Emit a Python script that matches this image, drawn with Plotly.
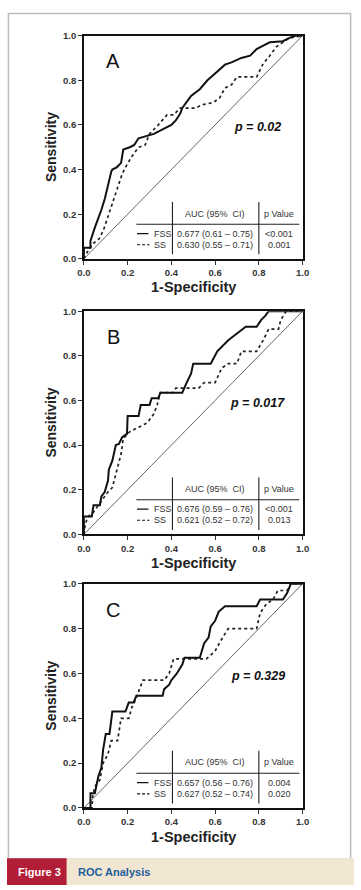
import plotly.graph_objects as go

W, H = 361, 890

# ---------------- data ----------------
panel_labels = ["A", "B", "C"]
p_texts = ["p = 0.02", "p = 0.017", "p = 0.329"]
tick_vals = [0.0, 0.2, 0.4, 0.6, 0.8, 1.0]
tick_text = ["0.0", "0.2", "0.4", "0.6", "0.8", "1.0"]
series_names = ["FSS", "SS"]
auc_a = ["0.677 (0.61 \u2013 0.75)", "0.630 (0.55 \u2013 0.71)"]
auc_b = ["0.676 (0.59 \u2013 0.76)", "0.621 (0.52 \u2013 0.72)"]
auc_c = ["0.657 (0.56 \u2013 0.76)", "0.627 (0.52 \u2013 0.74)"]
pval_a = ["<0.001", "0.001"]
pval_b = ["<0.001", "0.013"]
pval_c = ["0.004", "0.020"]

fss_a_x = [0, 0, 0.03, 0.03, 0.05, 0.066, 0.08, 0.096, 0.11, 0.125, 0.13, 0.15, 0.17, 0.18, 0.21,
           0.23, 0.25, 0.29, 0.32, 0.36, 0.40, 0.42, 0.44, 0.45, 0.48, 0.49, 0.53, 0.565, 0.60,
           0.645, 0.675, 0.72, 0.76, 0.79, 0.82, 0.85, 0.91, 0.94, 0.97, 1.0]
fss_a_y = [0, 0.05, 0.05, 0.08, 0.14, 0.18, 0.22, 0.27, 0.33, 0.39, 0.40, 0.41, 0.43, 0.49, 0.50,
           0.51, 0.54, 0.55, 0.56, 0.58, 0.60, 0.62, 0.65, 0.676, 0.72, 0.73, 0.76, 0.80, 0.83,
           0.87, 0.88, 0.90, 0.91, 0.94, 0.955, 0.97, 0.975, 0.99, 1.0, 1.0]
ss_a_x = [0, 0.015, 0.044, 0.07, 0.09, 0.11, 0.13, 0.155, 0.175, 0.19, 0.22, 0.25, 0.28, 0.30,
          0.34, 0.38, 0.41, 0.44, 0.51, 0.54, 0.59, 0.62, 0.645, 0.675, 0.70, 0.79, 0.82, 0.85,
          0.88, 0.91, 0.94, 1.0]
ss_a_y = [0, 0.03, 0.07, 0.09, 0.13, 0.19, 0.25, 0.33, 0.38, 0.41, 0.46, 0.50, 0.51, 0.56,
          0.60, 0.645, 0.645, 0.675, 0.675, 0.69, 0.70, 0.72, 0.765, 0.78, 0.815, 0.815, 0.875,
          0.91, 0.95, 0.97, 0.99, 1.0]

fss_b_x = [0, 0, 0.036, 0.044, 0.073, 0.08, 0.095, 0.11, 0.114, 0.13, 0.146, 0.16, 0.175, 0.197,
           0.20, 0.25, 0.26, 0.30, 0.31, 0.34, 0.35, 0.45, 0.47, 0.49, 0.50, 0.58, 0.61, 0.66,
           0.70, 0.74, 0.79, 0.81, 0.83, 0.845, 1.0]
fss_b_y = [0, 0.08, 0.08, 0.13, 0.13, 0.17, 0.19, 0.24, 0.29, 0.33, 0.40, 0.405, 0.435, 0.45,
           0.53, 0.53, 0.58, 0.58, 0.61, 0.61, 0.635, 0.635, 0.68, 0.72, 0.765, 0.765, 0.82, 0.87,
           0.90, 0.93, 0.93, 0.96, 0.98, 1.0, 1.0]
ss_b_x = [0, 0.007, 0.02, 0.044, 0.073, 0.087, 0.11, 0.13, 0.15, 0.17, 0.18, 0.21, 0.25, 0.29,
          0.32, 0.335, 0.35, 0.41, 0.42, 0.525, 0.55, 0.60, 0.63, 0.66, 0.70, 0.72, 0.79, 0.82,
          0.845, 0.89, 0.90, 0.925, 1.0]
ss_b_y = [0, 0.05, 0.08, 0.10, 0.14, 0.16, 0.19, 0.21, 0.28, 0.36, 0.43, 0.46, 0.48, 0.50,
          0.54, 0.58, 0.635, 0.635, 0.655, 0.655, 0.68, 0.68, 0.745, 0.765, 0.765, 0.82, 0.82,
          0.87, 0.92, 0.92, 0.96, 1.0, 1.0]

fss_c_x = [0, 0.03, 0.03, 0.05, 0.066, 0.08, 0.088, 0.10, 0.117, 0.13, 0.19, 0.205, 0.227, 0.24,
           0.36, 0.367, 0.39, 0.40, 0.425, 0.45, 0.46, 0.53, 0.55, 0.57, 0.58, 0.60, 0.616, 0.645,
           0.79, 0.806, 0.91, 0.93, 0.946, 1.0]
fss_c_y = [0, 0, 0.066, 0.066, 0.14, 0.18, 0.26, 0.33, 0.33, 0.43, 0.43, 0.47, 0.47, 0.50,
           0.50, 0.53, 0.55, 0.57, 0.60, 0.64, 0.67, 0.67, 0.735, 0.76, 0.81, 0.835, 0.875, 0.90,
           0.90, 0.93, 0.93, 0.96, 1.0, 1.0]
ss_c_x = [0, 0.037, 0.04, 0.05, 0.073, 0.088, 0.11, 0.125, 0.154, 0.17, 0.205, 0.22, 0.235,
          0.25, 0.27, 0.367, 0.39, 0.41, 0.52, 0.56, 0.60, 0.625, 0.66, 0.79, 0.806, 0.835,
          0.865, 0.887, 0.93, 0.946, 1.0]
ss_c_y = [0, 0, 0.05, 0.095, 0.125, 0.20, 0.24, 0.30, 0.30, 0.40, 0.40, 0.45, 0.48, 0.52,
          0.57, 0.57, 0.60, 0.665, 0.665, 0.665, 0.70, 0.745, 0.80, 0.80, 0.87, 0.91, 0.93,
          0.97, 0.97, 1.0, 1.0]

curves = [(fss_a_x, fss_a_y, ss_a_x, ss_a_y),
          (fss_b_x, fss_b_y, ss_b_x, ss_b_y),
          (fss_c_x, fss_c_y, ss_c_x, ss_c_y)]
aucs = [auc_a, auc_b, auc_c]
pvals = [pval_a, pval_b, pval_c]

# ---------------- layout helpers ----------------
FONT = "Arial, Liberation Sans, Helvetica, sans-serif"
x_left, x_right = 80, 307.5
panels_px = [(30, 256), (309, 535), (585, 812)]

def px_x(v):
    return v / W

def px_y(v):
    return 1 - v / H

fig = go.Figure()
shapes = []
annotations = []

for i in range(3):
    n = "" if i == 0 else str(i + 1)
    xa, ya = "x" + n, "y" + n
    top, bot = panels_px[i]
    fx, fy, sx, sy = curves[i]

    fig.add_trace(go.Scatter(x=[0, 1], y=[0, 1], mode="lines", xaxis=xa, yaxis=ya,
                             line=dict(color="#555555", width=0.9), showlegend=False,
                             hoverinfo="skip"))
    fig.add_trace(go.Scatter(x=sx, y=sy, mode="lines", xaxis=xa, yaxis=ya, name="SS",
                             line=dict(color="#222222", width=1.7, dash="dot"),
                             showlegend=False))
    fig.add_trace(go.Scatter(x=fx, y=fy, mode="lines", xaxis=xa, yaxis=ya, name="FSS",
                             line=dict(color="#111111", width=2.0), showlegend=False))

    axis_common = dict(range=[0, 1], showgrid=False, zeroline=False, showline=True,
                       linecolor="#111111", linewidth=1.6, mirror=True, ticks="outside",
                       ticklen=4, tickwidth=1, tickcolor="#333333",
                       tickvals=tick_vals, ticktext=tick_text,
                       tickfont=dict(family=FONT, size=9.5, color="#333333", weight="bold"))
    fig.update_layout(**{
        "xaxis" + n: dict(domain=[px_x(x_left), px_x(x_right)], anchor=ya, **axis_common),
        "yaxis" + n: dict(domain=[px_y(bot), px_y(top)], anchor=xa, **axis_common),
    })

    xr, yr = xa, ya
    annotations.append(dict(xref="paper", yref="paper", x=px_x((x_left + x_right) / 2),
                            y=px_y(bot + 29), text="<b>1-Specificity</b>", showarrow=False,
                            font=dict(family=FONT, size=14.5, color="#222222"),
                            xanchor="center", yanchor="middle"))
    annotations.append(dict(xref="paper", yref="paper", x=px_x(56),
                            y=px_y((top + bot) / 2), text="<b>Sensitivity</b>", showarrow=False,
                            textangle=-90, font=dict(family=FONT, size=14, color="#222222"),
                            xanchor="right", yanchor="middle"))
    annotations.append(dict(xref=xr, yref=yr, x=0.135, y=0.885, text=panel_labels[i],
                            showarrow=False, font=dict(family=FONT, size=20, color="#111111"),
                            xanchor="center", yanchor="middle"))
    annotations.append(dict(xref=xr, yref=yr, x=0.795, y=0.59,
                            text="<b><i>" + p_texts[i] + "</i></b>", showarrow=False,
                            font=dict(family=FONT, size=12.5, color="#111111"),
                            xanchor="center", yanchor="middle"))
    tl = dict(color="#222222", width=1.1)
    shapes.append(dict(type="line", xref=xr, yref=yr, x0=0.405, x1=0.405, y0=0.02, y1=0.255, line=tl))
    shapes.append(dict(type="line", xref=xr, yref=yr, x0=0.80, x1=0.80, y0=0.02, y1=0.255, line=tl))
    shapes.append(dict(type="line", xref=xr, yref=yr, x0=0.24, x1=0.985, y0=0.155, y1=0.155, line=tl))
    shapes.append(dict(type="line", xref=xr, yref=yr, x0=0.243, x1=0.295, y0=0.113, y1=0.113,
                       line=dict(color="#111111", width=1.3)))
    shapes.append(dict(type="line", xref=xr, yref=yr, x0=0.243, x1=0.300, y0=0.063, y1=0.063,
                       line=dict(color="#111111", width=1.1, dash="3px,2px")))
    tf = dict(family=FONT, size=9, color="#333333")
    annotations.append(dict(xref=xr, yref=yr, x=0.60, y=0.203, text="AUC (95%  CI)",
                            showarrow=False, font=tf, xanchor="center", yanchor="middle"))
    annotations.append(dict(xref=xr, yref=yr, x=0.893, y=0.203, text="p Value",
                            showarrow=False, font=tf, xanchor="center", yanchor="middle"))
    for r, yy in enumerate([0.113, 0.063]):
        annotations.append(dict(xref=xr, yref=yr, x=0.31, y=yy, text=series_names[r],
                                showarrow=False, font=tf, xanchor="left", yanchor="middle"))
        annotations.append(dict(xref=xr, yref=yr, x=0.60, y=yy, text=aucs[i][r],
                                showarrow=False, font=tf, xanchor="center", yanchor="middle"))
        annotations.append(dict(xref=xr, yref=yr, x=0.893, y=yy, text=pvals[i][r],
                                showarrow=False, font=tf, xanchor="center", yanchor="middle"))

shapes.append(dict(type="rect", xref="paper", yref="paper", x0=px_x(1.5), x1=px_x(357.5),
                   y0=px_y(864), y1=px_y(7.5), line=dict(color="#BDBDBD", width=1.5),
                   fillcolor="rgba(0,0,0,0)", layer="below"))
shapes.append(dict(type="rect", xref="paper", yref="paper", x0=0, x1=1, y0=0, y1=px_y(863),
                   line=dict(width=0), fillcolor="#F1E6D1", layer="below"))
shapes.append(dict(type="rect", xref="paper", yref="paper", x0=0, x1=px_x(62), y0=0,
                   y1=px_y(863), line=dict(width=0), fillcolor="#B21E37", layer="below"))
annotations.append(dict(xref="paper", yref="paper", x=px_x(9), y=px_y(877),
                        text="<b>Figure 3</b>", showarrow=False, xanchor="left", yanchor="middle",
                        font=dict(family=FONT, size=11, color="#FFFFFF")))
annotations.append(dict(xref="paper", yref="paper", x=px_x(72), y=px_y(877),
                        text="<b>ROC Analysis</b>", showarrow=False, xanchor="left",
                        yanchor="middle", font=dict(family=FONT, size=11, color="#1F5D9C")))

fig.update_layout(width=W, height=H, margin=dict(l=0, r=0, t=0, b=0),
                  paper_bgcolor="white", plot_bgcolor="white", showlegend=False,
                  shapes=shapes, annotations=annotations,
                  font=dict(family=FONT))

fig.write_html("out.html", config={"displayModeBar": False})
